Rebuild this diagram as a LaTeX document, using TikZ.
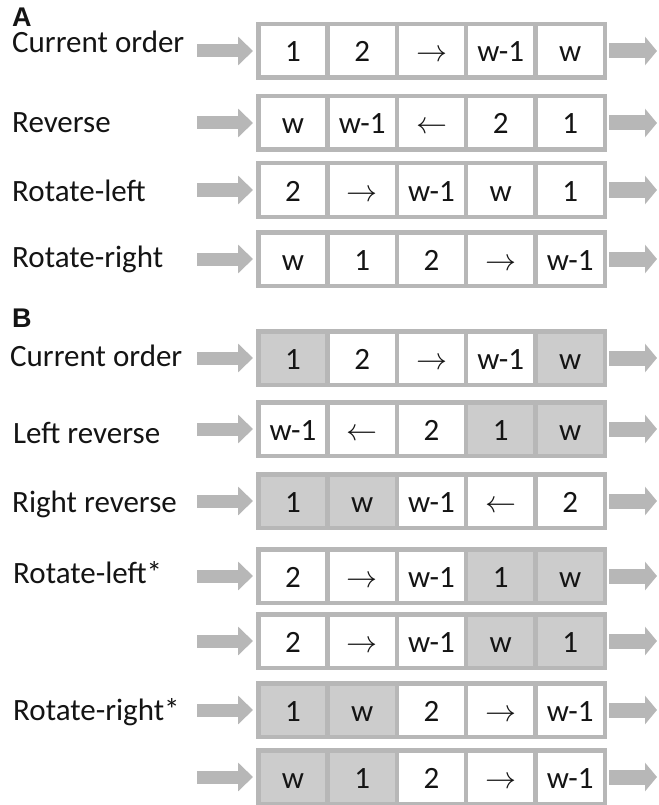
\RequirePackage{fix-cm}
\documentclass[tikz,border=0pt]{standalone}
\usepackage{fontspec}
\setmainfont{Carlito}
\newfontfamily\hdfont{Liberation Sans}
\usetikzlibrary{arrows.meta}
\definecolor{bordergray}{RGB}{183,183,183}
\definecolor{arrowgray}{RGB}{183,183,183}
\definecolor{shadefill}{RGB}{204,204,204}
\definecolor{textc}{RGB}{20,20,20}
\newcommand\ra{$\rightarrow$}
\newcommand\la{$\leftarrow$}
\newcommand\hdtext[1]{\fontsize{27pt}{30pt}\selectfont\hdfont\bfseries #1}
\newcommand\mkrow[3]{%
  \foreach \t/\s [count=\i] in {#3} {\node[\s] (#1c\i) at ({292.9+(\i-1)*69.3},#2) {\t};}
  \coordinate (#1s) at (197,#2);
  \coordinate (#1e) at (657,#2);
  \draw[larrow] (#1s) -- (#1c1.west);
  \draw[rarrow] (#1c5.east) -- (#1e);
}
\begin{document}
\begin{tikzpicture}[x=1pt,y=-1pt,
  wc/.style={draw=bordergray, line width=4.5pt, fill=white, minimum width=69.3pt, minimum height=53.5pt, inner sep=0pt, text height=22pt, text depth=0pt, font=\fontsize{31}{37}\selectfont, text=textc},
  sc/.style={wc, fill=shadefill},
  lbl/.style={anchor=base west, inner sep=0pt, font=\fontsize{31}{37}\selectfont, text=textc},
  headtxt/.style={anchor=base west, inner sep=0pt, text=textc},
  larrow/.style={draw=arrowgray, line width=13pt, -{Triangle[length=15pt,width=28pt]}, shorten >=3pt},
  rarrow/.style={draw=arrowgray, line width=15pt, -{Triangle[length=12pt,width=28pt]}, shorten <=2.25pt},
]
\useasboundingbox (0,0) rectangle (658,805);

% Part A
\node[headtxt] (hA) at (12,27) {\hdtext{A}};
\node[lbl] (lA1) at (12,53) {Current order};
\node[lbl] (lA2) at (12,133) {Reverse};
\node[lbl] (lA3) at (12,201) {Rotate-left};
\node[lbl] (lA4) at (12,267) {Rotate-right};

\mkrow{a1}{51}{1/wc,2/wc,\ra/wc,w-1/wc,w/wc}
\mkrow{a2}{123}{w/wc,w-1/wc,\la/wc,2/wc,1/wc}
\mkrow{a3}{190}{2/wc,\ra/wc,w-1/wc,w/wc,1/wc}
\mkrow{a4}{259}{w/wc,1/wc,2/wc,\ra/wc,w-1/wc}

% Part B
\node[headtxt] (hB) at (12,327) {\hdtext{B}};
\node[lbl] (lB1) at (10,366.5) {Current order};
\node[lbl] (lB2) at (13,443) {Left reverse};
\node[lbl] (lB3) at (12,512) {Right reverse};
\node[lbl] (lB4) at (13,583) {Rotate-left*};
\node[lbl] (lB6) at (13,720) {Rotate-right*};

\mkrow{b1}{358}{1/sc,2/wc,\ra/wc,w-1/wc,w/sc}
\mkrow{b2}{429}{w-1/wc,\la/wc,2/wc,1/sc,w/sc}
\mkrow{b3}{501}{1/sc,w/sc,w-1/wc,\la/wc,2/wc}
\mkrow{b4}{576}{2/wc,\ra/wc,w-1/wc,1/sc,w/sc}
\mkrow{b5}{641}{2/wc,\ra/wc,w-1/wc,w/sc,1/sc}
\mkrow{b6}{710}{1/sc,w/sc,2/wc,\ra/wc,w-1/wc}
\mkrow{b7}{777}{w/sc,1/sc,2/wc,\ra/wc,w-1/wc}
\end{tikzpicture}
\end{document}
